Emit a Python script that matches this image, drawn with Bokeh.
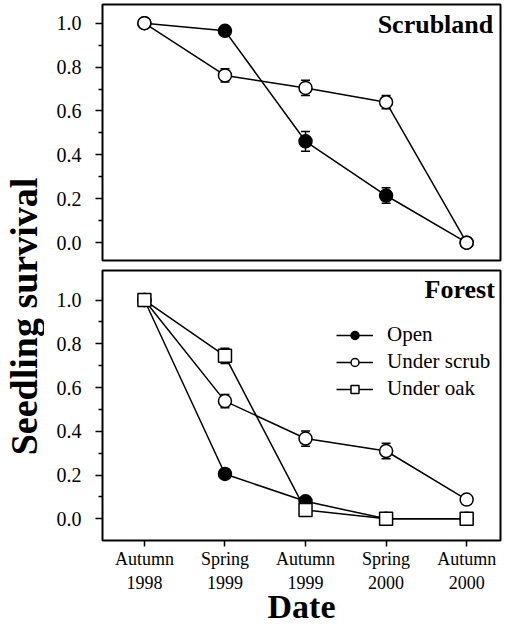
import math
from bokeh.plotting import figure
from bokeh.models import (ColumnDataSource, Whisker, TeeHead, Legend, LegendItem,
                          Label, FixedTicker, Range1d)
from bokeh.layouts import row, column
from bokeh.embed import file_html
from bokeh.resources import INLINE

# ---------------- data ----------------
dates = ["Autumn\n1998", "Spring\n1999", "Autumn\n1999", "Spring\n2000", "Autumn\n2000"]
x_pos = [0, 1, 2, 3, 4]

scrub_open = [1.0, 0.965, 0.462, 0.215, 0.0]
scrub_open_err = [0.0, 0.012, 0.045, 0.035, 0.0]
scrub_under = [1.0, 0.762, 0.705, 0.640, 0.0]
scrub_under_err = [0.0, 0.030, 0.035, 0.030, 0.0]

forest_open = [1.0, 0.205, 0.080, 0.0, 0.0]
forest_open_err = [0.0, 0.020, 0.010, 0.005, 0.005]
forest_scrub = [1.0, 0.538, 0.367, 0.310, 0.088]
forest_scrub_err = [0.0, 0.030, 0.035, 0.035, 0.010]
forest_oak = [1.0, 0.745, 0.040, 0.0, 0.0]
forest_oak_err = [0.0, 0.035, 0.010, 0.005, 0.005]

y_ticks = [0.0, 0.2, 0.4, 0.6, 0.8, 1.0]
y_tick_labels = ["0.0", "0.2", "0.4", "0.6", "0.8", "1.0"]
y_minor = [0.1, 0.3, 0.5, 0.7, 0.9]

SERIF = "Liberation Serif"
LAB_W = 44
BORDER_L = 58
FRAME_W = 398


def style_panel(p):
    p.outline_line_color = "black"
    p.outline_line_width = 2
    p.xgrid.visible = False
    p.ygrid.visible = False
    p.background_fill_color = "white"
    p.border_fill_color = "white"
    ax = p.yaxis[0]
    ax.ticker = FixedTicker(ticks=y_ticks, minor_ticks=y_minor)
    ax.major_label_overrides = {t: l for t, l in zip(y_ticks, y_tick_labels)}
    ax.axis_line_color = None
    ax.major_tick_in = 0
    ax.major_tick_out = 7
    ax.minor_tick_in = 0
    ax.minor_tick_out = 4
    ax.major_tick_line_width = 1.5
    ax.minor_tick_line_width = 1.5
    ax.major_tick_line_color = "black"
    ax.minor_tick_line_color = "black"
    ax.major_label_text_font = SERIF
    ax.major_label_text_font_size = "20px"
    ax.major_label_text_color = "black"
    ax.major_label_standoff = 14


def add_series(p, ys, errs):
    src = ColumnDataSource(dict(x=x_pos, y=ys,
                                lo=[v - e for v, e in zip(ys, errs)],
                                hi=[v + e for v, e in zip(ys, errs)]))
    w = Whisker(source=src, base="x", upper="hi", lower="lo", level="underlay",
                line_color="black", line_width=1.5,
                upper_head=TeeHead(size=9, line_color="black", line_width=1.5),
                lower_head=TeeHead(size=9, line_color="black", line_width=1.5))
    p.add_layout(w)
    ln = p.line("x", "y", source=src, line_color="black", line_width=1.5)
    return src, ln


def add_markers(p, src, marker, fill):
    return p.scatter("x", "y", source=src, marker=marker, size=13,
                     fill_color=fill, line_color="black", line_width=1.5)


XR = (-0.52, 4.42)

# ---------------- top panel: Scrubland ----------------
top = figure(frame_width=FRAME_W, frame_height=256, x_range=Range1d(*XR),
             y_range=Range1d(-0.081, 1.085),
             output_backend="svg", toolbar_location=None,
             min_border_left=BORDER_L, min_border_right=2, min_border_top=4, min_border_bottom=5)
style_panel(top)
top.xaxis.visible = False

s1, _ = add_series(top, scrub_open, scrub_open_err)
s2, _ = add_series(top, scrub_under, scrub_under_err)
add_markers(top, s1, "circle", "black")
add_markers(top, s2, "circle", "white")

top.add_layout(Label(x=4.33, y=0.995, text="Scrubland", text_align="right",
                     text_baseline="middle", text_font=SERIF, text_font_style="bold",
                     text_font_size="26px", text_color="black"))

# ---------------- bottom panel: Forest ----------------
bot = figure(frame_width=FRAME_W, frame_height=270, x_range=Range1d(*XR),
             y_range=Range1d(-0.099, 1.135),
             output_backend="svg", toolbar_location=None,
             min_border_left=BORDER_L, min_border_right=2, min_border_top=5, min_border_bottom=0)
style_panel(bot)
xa = bot.xaxis[0]
xa.ticker = FixedTicker(ticks=x_pos)
xa.major_label_overrides = {t: l for t, l in zip(x_pos, dates)}
xa.axis_line_color = None
xa.major_tick_in = 0
xa.major_tick_out = 6
xa.minor_tick_out = 0
xa.minor_tick_in = 0
xa.major_tick_line_width = 1.5
xa.major_tick_line_color = "black"
xa.major_label_text_font = SERIF
xa.major_label_text_font_size = "18px"
xa.major_label_text_color = "black"
xa.major_label_standoff = 2
xa.axis_label = "Date"
xa.axis_label_text_font = SERIF
xa.axis_label_text_font_style = "bold"
xa.axis_label_text_font_size = "34px"
xa.axis_label_text_color = "black"
xa.axis_label_standoff = -8

f1, l1 = add_series(bot, forest_open, forest_open_err)
f2, l2 = add_series(bot, forest_scrub, forest_scrub_err)
f3, l3 = add_series(bot, forest_oak, forest_oak_err)
m1 = add_markers(bot, f1, "circle", "black")
m2 = add_markers(bot, f2, "circle", "white")
m3 = add_markers(bot, f3, "square", "white")

bot.add_layout(Label(x=4.35, y=1.05, text="Forest", text_align="right",
                     text_baseline="middle", text_font=SERIF, text_font_style="bold",
                     text_font_size="26px", text_color="black"))

legend = Legend(items=[LegendItem(label="Open", renderers=[l1, m1]),
                       LegendItem(label="Under scrub", renderers=[l2, m2]),
                       LegendItem(label="Under oak", renderers=[l3, m3])],
                location=(234, 139), padding=0, margin=0, spacing=2,
                glyph_width=37, glyph_height=20, label_height=20, label_standoff=14,
                label_text_font=SERIF, label_text_font_size="21px",
                label_text_color="black", border_line_color=None,
                background_fill_alpha=0)
bot.add_layout(legend)

# ---------------- shared y label ----------------
LAB_H = 622
lab = figure(width=LAB_W, height=LAB_H, x_range=Range1d(0, LAB_W), y_range=Range1d(0, LAB_H),
             output_backend="svg", toolbar_location=None, min_border=0)
lab.axis.visible = False
lab.grid.visible = False
lab.outline_line_color = None
lab.add_layout(Label(x=23, y=LAB_H - 316, text="Seedling survival", angle=math.pi / 2,
                     text_align="center", text_baseline="middle", text_font=SERIF,
                     text_font_style="bold", text_font_size="38px", text_color="black"))

layout = row(lab, column(top, bot, spacing=0), spacing=0)

open("out.html", "w").write(file_html(layout, INLINE))
